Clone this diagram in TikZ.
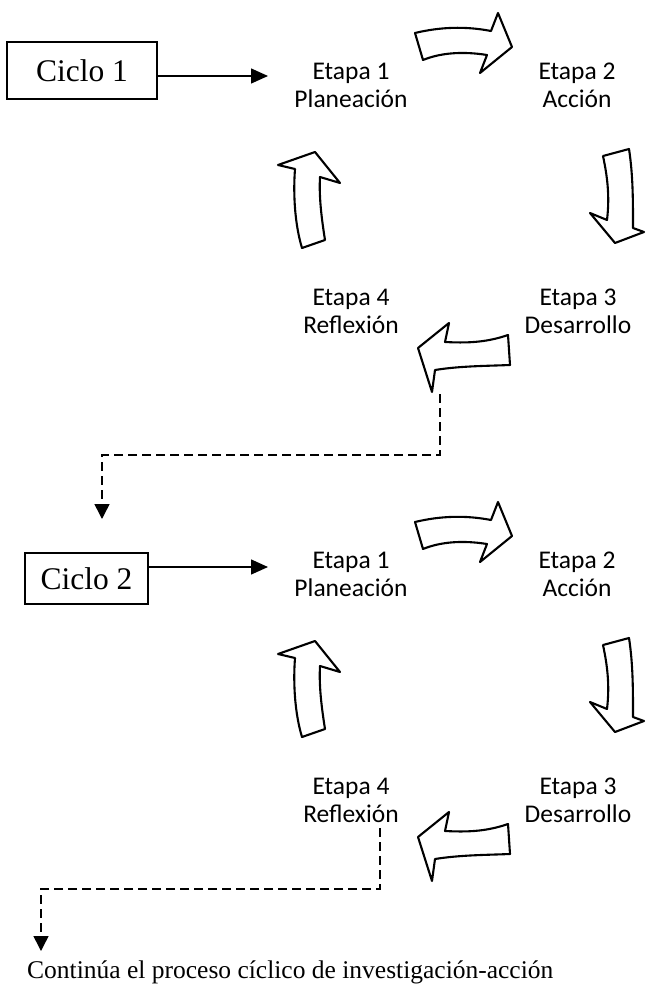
\documentclass[tikz,border=0pt]{standalone}
\usepackage{fontspec}
\setmainfont{Liberation Serif}
\newfontfamily\calfont{Carlito}
\usetikzlibrary{arrows.meta}
\begin{document}
\begin{tikzpicture}[x=1pt,y=-1pt,
  etapa/.style={align=center,inner sep=0pt,font=\calfont\fontsize{25.5pt}{28pt}\selectfont},
  ciclobox/.style={draw,line width=1.4pt,inner sep=0pt,font=\fontsize{31.5pt}{34pt}\selectfont},
  blockarrow/.style={draw,line width=2.1pt,line join=round,fill=white},
  solidarrow/.style={line width=1.4pt,-{Triangle[length=17pt,width=15pt]}},
  dasharrow/.style={line width=1.5pt,dash pattern=on 9pt off 5pt,-{Triangle[length=15pt,width=15pt]}}
]
\useasboundingbox (0,0) rectangle (647,995);

% ---------- Cycle 1 ----------
\node[ciclobox,minimum width=150pt,minimum height=57pt] (c1) at (82,70.5) {Ciclo 1};
\node[etapa] (e11) at (351,85) {Etapa 1\\Planeación};
\node[etapa] (e12) at (577,85) {Etapa 2\\Acción};
\node[etapa] (e13) at (578,311) {Etapa 3\\Desarrollo};
\node[etapa] (e14) at (351,311) {Etapa 4\\Reflexión};
\coordinate (a1) at (268,76);
\draw[solidarrow] (c1.east |- a1) -- (a1);

\begin{scope}[yshift=0pt]
\path[blockarrow] (415,33) .. controls (440,27) and (465,26) .. (491,31) -- (498,13) -- (512,47) -- (480,73) -- (487,55) .. controls (462,51) and (440,53) .. (423,60) -- cycle;
\path[blockarrow] (603,156) -- (629,149) .. controls (633,175) and (633,200) .. (633,228) -- (644,232) -- (615,243) -- (590,213) -- (607,220) .. controls (610,195) and (607,175) .. cycle;
\path[blockarrow] (508,335) .. controls (485,343) and (465,343) .. (445,342) -- (449,323) -- (418,348) -- (432,392) -- (435,370) .. controls (460,366) and (485,366) .. (510,365) -- cycle;
\path[blockarrow] (302,248) -- (325,240) .. controls (321,215) and (319,195) .. (320,177) -- (340,183) -- (315,152) -- (278,165) -- (295,169) .. controls (293,195) and (295,225) .. cycle;
\end{scope}

% ---------- Cycle 2 ----------
\node[ciclobox,minimum width=123pt,minimum height=51pt] (c2) at (86.5,578.5) {Ciclo 2};
\node[etapa] (e21) at (351,574) {Etapa 1\\Planeación};
\node[etapa] (e22) at (577,574) {Etapa 2\\Acción};
\node[etapa] (e23) at (578,800) {Etapa 3\\Desarrollo};
\node[etapa] (e24) at (351,800) {Etapa 4\\Reflexión};
\coordinate (a2) at (268,567);
\draw[solidarrow] (c2.east |- a2) -- (a2);

\begin{scope}[yshift=-489pt]
\path[blockarrow] (415,33) .. controls (440,27) and (465,26) .. (491,31) -- (498,13) -- (512,47) -- (480,73) -- (487,55) .. controls (462,51) and (440,53) .. (423,60) -- cycle;
\path[blockarrow] (603,156) -- (629,149) .. controls (633,175) and (633,200) .. (633,228) -- (644,232) -- (615,243) -- (590,213) -- (607,220) .. controls (610,195) and (607,175) .. cycle;
\path[blockarrow] (508,335) .. controls (485,343) and (465,343) .. (445,342) -- (449,323) -- (418,348) -- (432,392) -- (435,370) .. controls (460,366) and (485,366) .. (510,365) -- cycle;
\path[blockarrow] (302,248) -- (325,240) .. controls (321,215) and (319,195) .. (320,177) -- (340,183) -- (315,152) -- (278,165) -- (295,169) .. controls (293,195) and (295,225) .. cycle;
\end{scope}

% ---------- dashed connectors ----------
\coordinate (d1s) at (440,394);
\coordinate (d1e) at (102,519);
\draw[dasharrow] (d1s) |- (102,455) -- (d1e);
\coordinate (d2s) at (380,828);
\coordinate (d2e) at (41,951);
\draw[dasharrow] (d2s) |- (41,889) -- (d2e);

\node[inner sep=0pt,font=\fontsize{25.5pt}{28pt}\selectfont,anchor=west] (fin) at (27,972) {Continúa el proceso cíclico de investigación-acción};
\end{tikzpicture}
\end{document}
